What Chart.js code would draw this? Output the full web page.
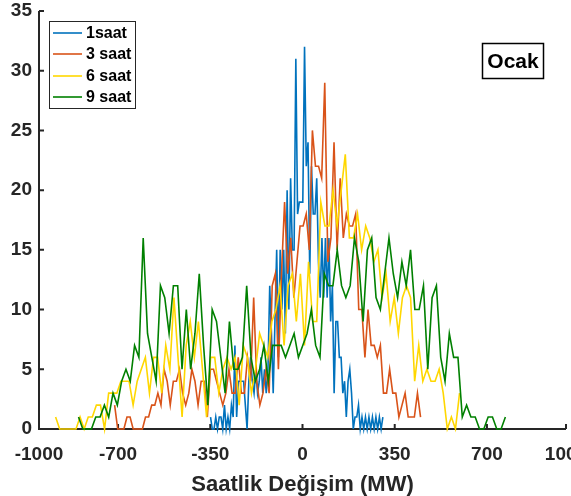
<!DOCTYPE html>
<html lang="tr">
<head>
<meta charset="utf-8">
<title>Ocak - Saatlik Değişim</title>
<script src="https://cdn.jsdelivr.net/npm/chart.js"></script>
<style>
  html, body { margin: 0; padding: 0; background: #fff; }
  #wrap { width: 571px; height: 496px; }
</style>
</head>
<body>
<div id="wrap"><canvas id="hist"></canvas></div>
<script>
// histogram counts of hourly load change, 100 bins per horizon
const seriesNames = ['1saat', '3 saat', '6 saat', '9 saat'];
const seriesColors = ['#0072BD', '#D95319', '#FFD700', '#008000'];
const binFrom = [-349, -713, -937, -850];
const binTo = [305, 448, 596, 770];

const counts1 = [1,0,0,1,0,1,1,0,2,0, 1,0,2,1,7,1,4,4,4,4, 2,0,4,6,4,3,5,3,4,6,
  3,5,3,5,12,8,3,9,15,6, 15,10,15,8,20,10,21,15,15,31, 18,19,19,19,32,22,24,13,22,18,
  18,21,14,11,16,11,16,11,16,9, 12,3,9,9,6,6,3,4,1,4, 5,3,0,1,1,2,0,1,0,1,
  0,1,0,1,0,1,0,1,0,1];
const counts3 = [2,0,0,0,1,1,0,0,0,0, 1,1,2,2,3,2,5,4,2,4, 4,5,3,2,3,5,4,2,4,4,
  1,5,5,4,3,2,3,5,3,3, 6,3,3,6,4,11,4,2,3,5, 3,12,13,5,13,19,13,16,11,14,
  17,17,18,15,25,22,22,21,29,14, 16,24,15,21,16,18,17,17,18,10, 10,6,10,7,7,6,7,3,3,5,
  3,3,1,2,3,1,1,1,3,1];
const counts6 = [1,0,0,0,0,0,1,0,1,1, 2,2,0,3,3,3,4,4,4,2, 4,5,6,3,6,6,3,7,5,11,
  6,1,7,9,6,9,5,1,6,6, 3,5,6,5,6,2,7,6,3,5, 8,7,6,9,10,12,7,12,13,9,
  13,7,14,9,9,19,17,17,20,17, 20,23,16,16,18,15,17,16,14,15, 11,13,9,11,8,11,12,11,4,7,
  4,5,4,4,5,3,0,1,0,3];
const counts9 = [1,0,0,0,1,1,2,1,3,2, 4,5,4,7,6,16,8,6,4,12, 11,8,12,12,5,10,5,8,13,7,
  2,10,9,6,3,9,5,5,6,12, 6,4,5,7,4,7,7,7,6,7, 8,6,7,8,10,7,6,13,12,12,
  15,12,11,12,16,14,9,15,16,11, 10,13,16,13,11,14,12,15,10,10, 12,5,11,12,6,4,8,6,6,1,
  2,1,1,0,0,1,1,0,0,1];

const xTicks = [-1000, -700, -350, 0, 350, 700, 1000];
const yTicks = [0, 5, 10, 15, 20, 25, 30, 35];
const xTitle = 'Saatlik Değişim (MW)';
const panelTitle = 'Ocak';

const FONT = '"Liberation Sans", Arial, sans-serif';
const AXIS = '#262626';

// bin centres spread evenly between first and last bin
function toPoints(counts, from, to) {
  const n = counts.length;
  return counts.map((c, i) => ({ x: from + (to - from) * i / (n - 1), y: c }));
}

const allCounts = [counts1, counts3, counts6, counts9];
const datasets = allCounts.map((c, k) => ({
  label: seriesNames[k],
  data: toPoints(c, binFrom[k], binTo[k]),
  borderColor: seriesColors[k],
  borderWidth: 1.6,
  pointRadius: 0,
  tension: 0,
  clip: false,
  order: 3 - k   // later series on top
}));

// left/bottom axis lines with inward ticks
const axesFrame = {
  id: 'axesFrame',
  beforeDatasetsDraw(chart) {
    const { ctx, chartArea: a, scales } = chart;
    ctx.save();
    ctx.strokeStyle = AXIS;
    ctx.lineWidth = 2;
    ctx.beginPath();
    ctx.moveTo(a.left, a.top);
    ctx.lineTo(a.left, a.bottom);
    ctx.lineTo(a.right, a.bottom);
    xTicks.forEach(v => {
      const px = scales.x.getPixelForValue(v);
      ctx.moveTo(px, a.bottom);
      ctx.lineTo(px, a.bottom - 5);
    });
    yTicks.forEach(v => {
      const py = scales.y.getPixelForValue(v);
      ctx.moveTo(a.left, py);
      ctx.lineTo(a.left + 5, py);
    });
    ctx.stroke();
    ctx.restore();
  }
};

// boxed legend in the upper left and the month label in the upper right
const boxes = {
  id: 'boxes',
  afterDraw(chart) {
    const { ctx } = chart;
    ctx.save();
    ctx.fillStyle = '#fff';
    ctx.fillRect(49, 21, 86, 87);
    ctx.strokeStyle = AXIS;
    ctx.lineWidth = 1;
    ctx.strokeRect(49.5, 21.5, 86, 87);
    const rows = [33, 54, 76, 97];
    ctx.font = 'bold 16px ' + FONT;
    ctx.textBaseline = 'middle';
    ctx.textAlign = 'left';
    chart.data.datasets.forEach((ds, k) => {
      ctx.strokeStyle = ds.borderColor;
      ctx.lineWidth = 1.6;
      ctx.beginPath();
      ctx.moveTo(53, rows[k]);
      ctx.lineTo(82, rows[k]);
      ctx.stroke();
      ctx.fillStyle = '#000';
      ctx.fillText(ds.label, 86, rows[k] + 1);
    });

    ctx.fillStyle = '#fff';
    ctx.fillRect(482, 43, 61, 35);
    ctx.strokeStyle = '#000';
    ctx.lineWidth = 1.5;
    ctx.strokeRect(482.5, 43.5, 61, 35);
    ctx.fillStyle = '#000';
    ctx.font = 'bold 21px ' + FONT;
    ctx.textAlign = 'center';
    ctx.fillText(panelTitle, 513, 62);
    ctx.restore();
  }
};

new Chart(document.getElementById('hist'), {
  type: 'line',
  data: { datasets },
  plugins: [axesFrame, boxes],
  options: {
    responsive: true,
    maintainAspectRatio: false,
    animation: false,
    layout: { padding: { top: 11, right: 5, left: 0, bottom: 0 } },
    plugins: { legend: { display: false }, tooltip: { enabled: false } },
    scales: {
      x: {
        type: 'linear',
        min: -1000, max: 1000,
        afterBuildTicks: s => { s.ticks = xTicks.map(v => ({ value: v })); },
        afterFit: s => { s.height = 67; s.paddingLeft = 0; s.paddingRight = 0; },
        grid: { display: false, drawTicks: false },
        border: { display: false },
        ticks: { color: AXIS, padding: 14, maxRotation: 0, autoSkip: false,
                 callback: v => String(v),
                 font: { family: FONT, size: 19, weight: 'bold' } },
        title: { display: true, text: xTitle, color: AXIS, padding: 0,
                 font: { family: FONT, size: 22, weight: 'bold', lineHeight: 1 } }
      },
      y: {
        min: 0, max: 35,
        afterBuildTicks: s => { s.ticks = yTicks.map(v => ({ value: v })); },
        afterFit: s => { s.width = 39; s.paddingTop = 0; s.paddingBottom = 0; },
        grid: { display: false, drawTicks: false },
        border: { display: false },
        ticks: { color: AXIS, padding: 7, callback: v => String(v),
                 font: { family: FONT, size: 19, weight: 'bold' } }
      }
    }
  }
});
</script>
</body>
</html>
